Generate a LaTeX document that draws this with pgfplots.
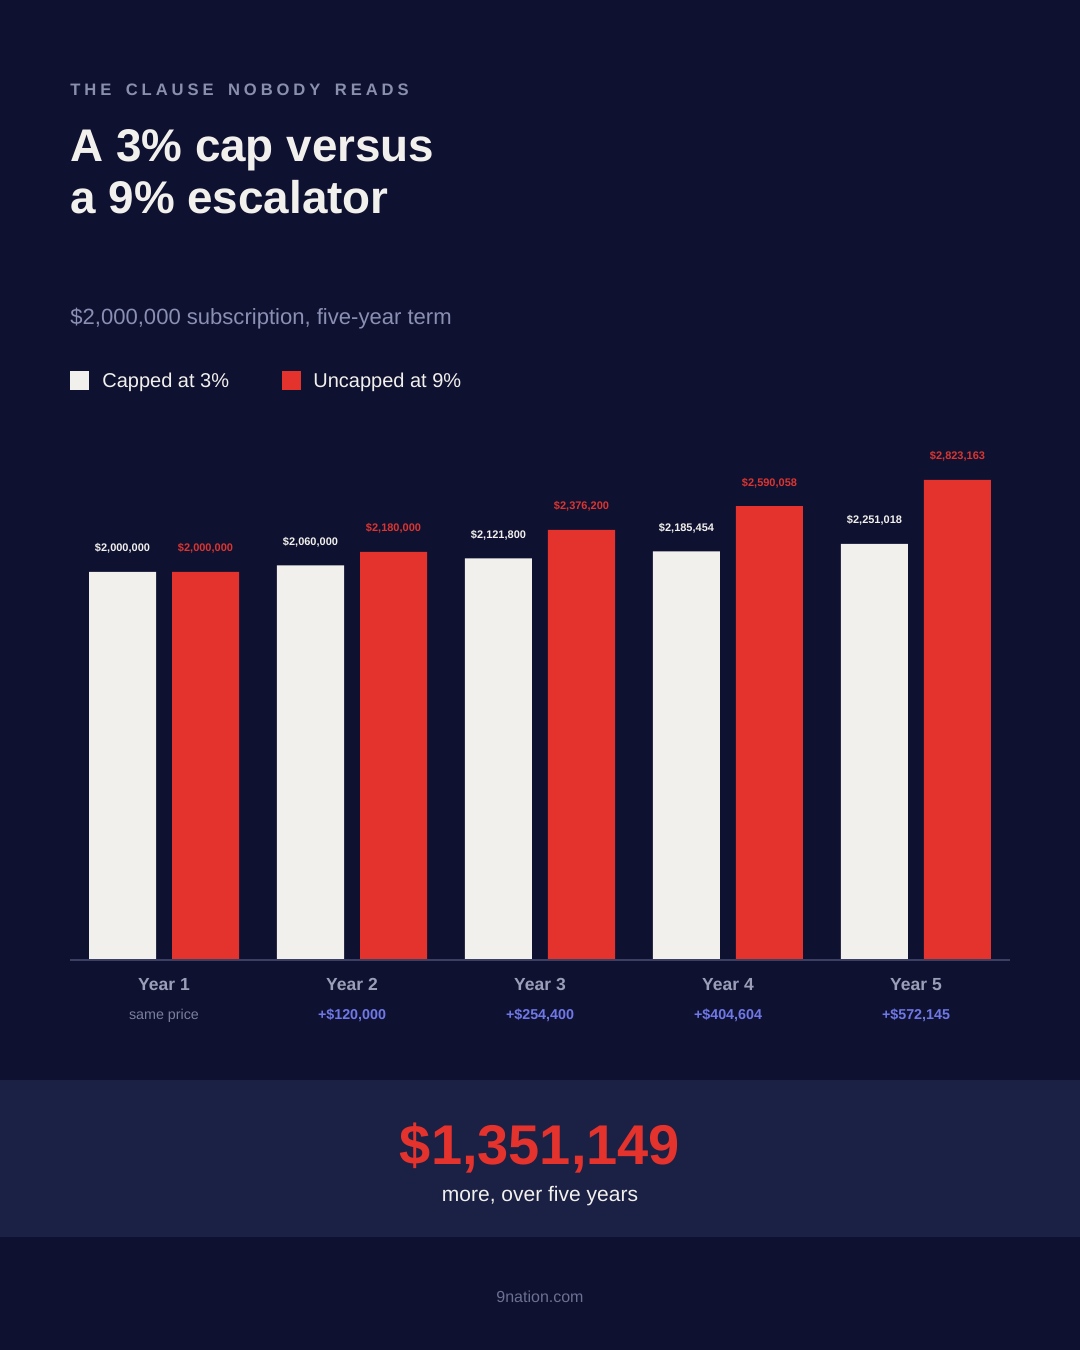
\documentclass[border=0pt]{standalone}
\usepackage{fontspec}
\setmainfont{Liberation Sans}
\newfontfamily\kickerfont[LetterSpace=23.5,WordSpace=1.7]{Liberation Sans}
\usepackage{pgfplots}
\pgfplotsset{compat=1.18}
\definecolor{bg}{HTML}{0E1130}
\definecolor{band}{HTML}{1B2045}
\definecolor{capw}{HTML}{F2F0EC}
\definecolor{unred}{HTML}{E4322D}
\definecolor{redtxt}{HTML}{DA3530}
\definecolor{kick}{HTML}{8A8FAE}
\definecolor{subt}{HTML}{8A8FB3}
\definecolor{yearg}{HTML}{9B9EB6}
\definecolor{subg}{HTML}{7A7F9F}
\definecolor{bluet}{HTML}{6F78E6}
\definecolor{axl}{HTML}{3B3F63}
\definecolor{foot}{HTML}{6C7091}
\begin{document}
\begin{tikzpicture}
\fill[bg] (0,0) rectangle (540pt,675pt);
\begin{scope}[x=0.5pt,y=-0.5pt,shift={(0pt,675pt)}]
\fill[band] (0,1080) rectangle (1080,1237);
\node[anchor=base west,inner sep=0,text=kick,font=\kickerfont\bfseries\fontsize{8.3}{9}\selectfont] at (70,95.5) {THE CLAUSE NOBODY READS};
\node[anchor=base west,inner sep=0,text=capw,font=\bfseries\fontsize{22.9}{26}\selectfont] at (70,162) {A 3\% cap versus};
\node[anchor=base west,inner sep=0,text=capw,font=\bfseries\fontsize{22.9}{26}\selectfont] at (70,214) {a 9\% escalator};
\node[anchor=base west,inner sep=0,text=subt,font=\fontsize{11.03}{13}\selectfont] at (70,325) {\$2,000,000 subscription, five-year term};
\fill[capw] (70,371) rectangle (89,390);
\node[anchor=base west,inner sep=0,text=capw,font=\fontsize{10}{12}\selectfont] at (102,388) {Capped at 3\%};
\fill[unred] (282,371) rectangle (301,390);
\node[anchor=base west,inner sep=0,text=capw,font=\fontsize{10}{12}\selectfont] at (313,388) {Uncapped at 9\%};
\foreach \i [count=\n from 0] in {1,2,3,4,5}{
  \node[anchor=base,inner sep=0,text=yearg,font=\bfseries\fontsize{8.75}{10}\selectfont] at (164+188*\n,991) {Year \i};
}
\node[anchor=base,inner sep=0,text=subg,font=\fontsize{7.15}{9}\selectfont] at (164,1020) {same price};
\node[anchor=base,inner sep=0,text=bluet,font=\bfseries\fontsize{7.15}{9}\selectfont] at (352,1020) {+\$120,000};
\node[anchor=base,inner sep=0,text=bluet,font=\bfseries\fontsize{7.15}{9}\selectfont] at (540,1020) {+\$254,400};
\node[anchor=base,inner sep=0,text=bluet,font=\bfseries\fontsize{7.15}{9}\selectfont] at (728,1020) {+\$404,604};
\node[anchor=base,inner sep=0,text=bluet,font=\bfseries\fontsize{7.15}{9}\selectfont] at (916,1020) {+\$572,145};
\node[anchor=base,inner sep=0,text=unred,font=\bfseries\fontsize{28}{32}\selectfont] at (540,1165) {\$1,351,149};
\node[anchor=base,inner sep=0,text=capw,font=\fontsize{10.5}{12}\selectfont] at (540,1202) {more, over five years};
\node[anchor=base,inner sep=0,text=foot,font=\fontsize{8}{10}\selectfont] at (540,1303) {9nation.com};
\end{scope}
\begin{axis}[at={(35pt,195pt)},anchor=south west,scale only axis,width=470pt,height=260pt,
  hide axis,xmin=-0.5,xmax=4.5,ymin=-1471600,ymax=3181060,
  y coord trafo/.code={\pgfkeys{/pgf/fpu,/pgf/fpu/output format=fixed}\pgfmathparse{#1+1471600}\pgfkeys{/pgf/fpu=false}},
  y coord inv trafo/.code={\pgfkeys{/pgf/fpu,/pgf/fpu/output format=fixed}\pgfmathparse{#1-1471600}\pgfkeys{/pgf/fpu=false}},
  ybar,bar width=33.5pt,point meta=explicit symbolic,nodes near coords,
  every node near coord/.append style={anchor=base,yshift=10pt,inner sep=0,font=\bfseries\fontsize{5.5}{7}\selectfont}]
\addplot[fill=capw,draw=none,bar shift=-20.75pt,every node near coord/.append style={text=capw}] coordinates {
 (0,2000000) [\$2,000,000]
 (1,2060000) [\$2,060,000]
 (2,2121800) [\$2,121,800]
 (3,2185454) [\$2,185,454]
 (4,2251018) [\$2,251,018]
};
\addplot[fill=unred,draw=none,bar shift=20.75pt,every node near coord/.append style={text=redtxt}] coordinates {
 (0,2000000) [\$2,000,000]
 (1,2180000) [\$2,180,000]
 (2,2376200) [\$2,376,200]
 (3,2590058) [\$2,590,058]
 (4,2823163) [\$2,823,163]
};
\end{axis}
\draw[axl,line width=1pt] (35pt,195pt) -- (505pt,195pt);
\end{tikzpicture}
\end{document}
